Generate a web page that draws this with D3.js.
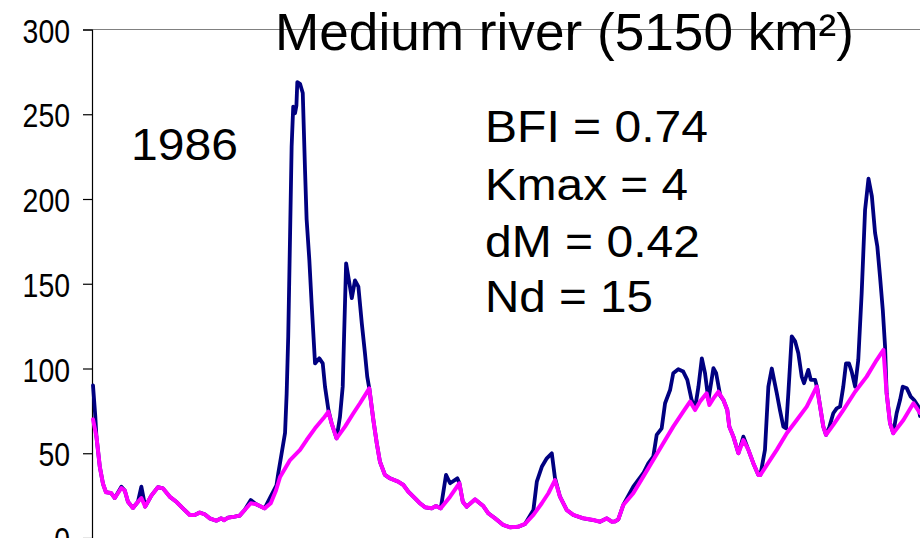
<!DOCTYPE html>
<html>
<head>
<meta charset="utf-8">
<script src="https://cdn.jsdelivr.net/npm/d3@7"></script>
<style>
  html, body { margin: 0; padding: 0; background: #fff; overflow: hidden; }
  svg { display: block; }
</style>
</head>
<body>
<script>
// ---- Data (day of year, discharge m3/s) ----
const baseDays = [0,1.5,3,4.4,5.7,8,9.6,12.5,14,15.4,17.6,19.8,21.3,23,25.7,28.6,30.8,33.8,36.7,39.6,42.6,44.8,47,49.2,51.4,54.3,56.5,57.7,59.5,62.4,64.6,66.8,69.5,71.9,75.6,78.3,80.6,82.4,86.8,91.2,94.1,97.8,101.5,103.7,105.1,107.3,111,114.7,117.6,121.7,123.5,125,126.4,128.6,130.8,134.5,136.7,138.9,141.9,144,146.3,149.2,151.1,153.2,157.3,161.4,162.9,164.6,168.3,171.9,174.1,177.1,180.7,183.7,187.4,190.3,194,197.7,200.6,203.5,205.7,208.7,211.6,216,220.4,223.3,226.3,228.6,230,231.4,233.6,238,242.4,246.8,251.2,255.6,260,263,265.2,267.4,270.3,271.5,273.3,275.5,277.7,279.4,280.3,282.1,284.3,286.5,288.7,290.9,293.1,294,296.8,301.2,305.6,310,314.4,318.8,320.3,321.7,322.9,326.1,330.5,335.7,340.8,345.2,348.2,349.6,351.1,352.5,357,361.4,364.3];
const baseFlow = [70,60,42,32,27,26.5,23.6,29.5,28,21.4,17.7,21.4,23.6,18.5,25,30,29.3,24.4,21.4,17.5,13.6,13.6,15,14,11.6,10.2,11.6,10.5,12,12.6,13.2,16.5,20.5,19.9,17.5,20.5,28,36,46,52,57.8,64.7,70.6,74.5,67.7,58.8,65.7,73.6,79.5,88.3,69.6,55.9,45,37.2,35.2,33.2,31.3,27.3,23.4,20.5,18.1,17.5,18.9,17.5,24.4,32.3,21.4,18.5,22.8,18.9,14.6,11.6,7.7,6.3,6.7,8.3,13.6,20.5,26.4,34.2,24.4,16.5,13.6,11.6,10.6,9.6,11.6,9.6,9.8,11,19.5,26.4,36.2,46,55.9,65.7,74.5,80.5,75.5,80.5,85.4,78.5,82.4,86.3,81.4,75.5,65.7,59.8,50,57.8,52,44,37.2,37.2,43,52,61.8,69.6,77.5,89.3,77.5,65.7,60.8,66.7,75.5,86.3,95.2,105,111,85.4,67.7,61.8,69.6,79.5,73.6];

const totalDays = [0,1,1.5,3,4.4,5.7,8,9.6,12.5,14,15.4,17.6,19.8,21.3,23,25.7,28.6,30.8,33.8,36.7,39.6,42.6,44.8,47,49.2,51.4,54.3,56.5,57.7,59.5,62.4,64.6,66.8,69.5,71.9,75.6,77.9,80.8,81.6,83.1,84.6,85.3,86,86.8,87.5,88.2,89,89.6,90,91.2,92.4,93.4,94.1,95.3,96.3,97.8,99.7,101.2,102.2,103.7,105.1,107.3,108.8,110,110.6,111.5,112.5,114,115.4,116.9,118.4,119.8,120.8,121.7,123.5,125,126.4,128.6,130.8,134.5,136.7,138.9,141.9,144,146.3,149.2,151.1,153.2,155.5,157.3,160.5,161.4,162.9,164.6,168.3,171.9,174.1,177.1,180.7,183.7,187.4,190.3,194,195.5,197.7,199.9,202.1,203.5,205.7,208.7,211.6,216,220.4,223.3,226.3,228.6,230,231.4,233.6,238,242.4,244.6,246.8,248.3,250.5,252,254.2,255.6,257.8,260,261.8,263.7,265.2,266.7,268.2,269.6,271.1,273.3,274.5,276.3,277.7,279.4,280.3,282.1,284.3,286.5,288.7,290.9,293.1,294,296,297.5,299,301.2,302.6,304.1,305.3,306.3,307.8,309.3,310.7,312.2,313.2,315.1,316.2,318.1,319.1,320.3,321.7,322.9,324.4,326.1,327.6,329.1,330.5,331.7,333,334.2,335.7,337.1,338.6,340.1,341.6,343.1,344.5,345.5,346.7,347.9,348.9,349.6,351.1,352.5,354,355.5,356.7,358.5,360.2,361.7,363.6,364.3];
const totalFlow = [90,72,60,42,32,27,26.5,23.6,30.3,28,21.4,17.7,21.4,30.3,18.5,25,30,29.3,24.4,21.4,17.5,13.6,13.6,15,14,11.6,10.2,11.6,10.5,12,12.6,13.2,16.5,22.4,19.9,17.5,23.6,31,38,50,62,85,119,178,231,254.5,250.6,255,269,268,262.5,217,188,164,138.5,103,106,103,89.3,75.5,67.7,58.8,71.6,89.3,119,162,154,141.5,152,148.3,126.7,109,95.2,88.3,69.6,55.9,45,37.2,35.2,33.2,31.3,27.3,23.4,20.5,18.1,17.5,18.9,17.5,37.2,32.3,35.2,32.3,21.4,18.5,22.8,18.9,14.6,11.6,7.7,6.3,6.7,8.3,16.5,33.2,42,47,50,35.4,24.4,16.5,13.6,11.6,10.6,9.6,11.6,9.6,9.8,11,19.5,30.3,38.2,44,48,60.8,64.7,79.5,87.3,97.2,99.6,98.2,93.3,81.4,76.5,89.3,106,97.2,81.4,100.2,97.2,84,81.4,75.5,65.7,59.8,50,59.8,52,44,37.2,37.2,52,89.3,100,85.4,75.5,65.7,64.7,85.4,119,116,109,95.2,91.3,99.2,93.3,93.3,88,77.5,65.7,60.8,65.7,73.6,76.5,77.5,89.3,103,103,98.2,89.3,105,144.4,193.6,212,201.5,180,172,154,134.6,113,85.4,67.7,61.8,73.6,81.4,89.3,88.3,83.4,81.4,77.5,72];

const yTicks = [0,50,100,150,200,250,300];
const titleText = "Medium river (5150 km\u00B2)";
const yearLabel = "1986";
const statLines = ["BFI = 0.74", "Kmax = 4", "dM = 0.42", "Nd = 15"];

// ---- Chart ----
const W = 920, H = 538;
const svg = d3.select("body").append("svg").attr("width", W).attr("height", H);

const x = d3.scaleLinear().domain([0, 365]).range([93, 921.6]);
const y = d3.scaleLinear().domain([0, 300]).range([538, 29.5]);

// top border line
svg.append("line")
  .attr("x1", 92).attr("x2", W).attr("y1", y(300)).attr("y2", y(300))
  .attr("stroke", "#808080").attr("stroke-width", 1.2);

// y axis
const yAxis = d3.axisLeft(y).tickValues(yTicks).tickSize(9).tickPadding(13).tickFormat(d3.format("d"));
const ga = svg.append("g").attr("transform", "translate(92,0)").call(yAxis);
ga.select(".domain").attr("stroke", "#000").attr("stroke-width", 1.2);
ga.selectAll(".tick line").attr("stroke", "#000").attr("stroke-width", 1.2);
ga.selectAll(".tick text")
  .attr("fill", "#000")
  .style("font-family", "'Liberation Sans Narrow','Arial Narrow','Liberation Sans',Arial,sans-serif")
  .style("font-size", "33px")
  .attr("dy", "0.38em")
  .attr("lengthAdjust", "spacingAndGlyphs")
  .attr("textLength", d => String(d).length * 15.8);

// series
const totalData = totalDays.map((d, i) => [d, totalFlow[i]]);
const baseData = baseDays.map((d, i) => [d, baseFlow[i]]);
const line = d3.line().x(d => x(d[0])).y(d => y(d[1])).curve(d3.curveLinear);

svg.append("path").datum(totalData)
  .attr("d", line).attr("fill", "none")
  .attr("stroke", "#000080").attr("stroke-width", 3.8)
  .attr("stroke-linejoin", "round").attr("stroke-linecap", "round");

svg.append("path").datum(baseData)
  .attr("d", line).attr("fill", "none")
  .attr("stroke", "#FF00FF").attr("stroke-width", 4)
  .attr("stroke-linejoin", "round").attr("stroke-linecap", "round");

// texts
const font = "'Liberation Sans',Arial,Helvetica,sans-serif";
svg.append("text").attr("x", 275).attr("y", 50)
  .style("font-family", font).style("font-size", "51px").attr("fill", "#000")
  .attr("lengthAdjust", "spacingAndGlyphs").attr("textLength", 579)
  .text(titleText);

svg.append("text").attr("x", 131).attr("y", 160)
  .style("font-family", font).style("font-size", "45px").attr("fill", "#000")
  .attr("lengthAdjust", "spacingAndGlyphs").attr("textLength", 107)
  .text(yearLabel);

const statBaselines = [141.5, 199.5, 257, 312];
const statLengths = [223, 203, 215, 168];
svg.selectAll("text.stat").data(statLines).enter().append("text")
  .attr("class", "stat")
  .attr("x", 485).attr("y", (d, i) => statBaselines[i])
  .style("font-family", font).style("font-size", "44px").attr("fill", "#000")
  .attr("lengthAdjust", "spacingAndGlyphs")
  .attr("textLength", (d, i) => statLengths[i])
  .text(d => d);
</script>
</body>
</html>
